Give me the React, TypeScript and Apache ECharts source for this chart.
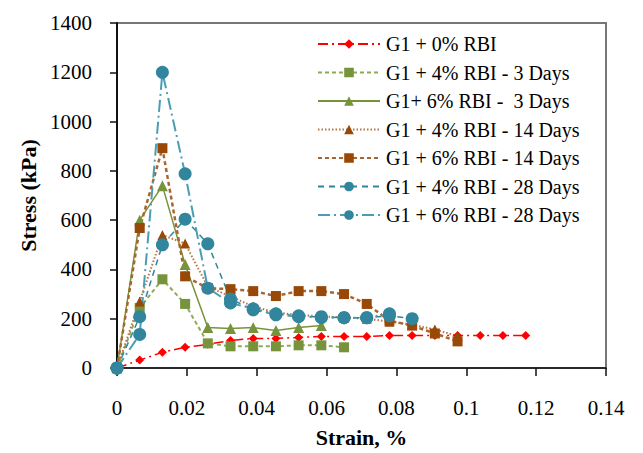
import React, { useEffect, useRef } from "react";
import * as echarts from "echarts";

// Strain (%) sample positions shared by all tests
const strain = [0, 0.0065, 0.013, 0.0195, 0.026, 0.0325, 0.039, 0.0455, 0.052, 0.0585, 0.065, 0.0715, 0.078, 0.0845, 0.091, 0.0975, 0.104, 0.1105, 0.117];

// Stress (kPa) per series
const g1_0 = [0, 32, 64, 84, 96, 112, 120, 120, 124, 128, 128, 128, 132, 132, 132, 132, 132, 132, 132];
const g1_4_3d = [0, 244, 360, 260, 100, 88, 88, 88, 92, 92, 84];
const g1_6_3d = [0, 600, 740, 420, 164, 160, 164, 152, 164, 172];
const g1_4_14d = [0, 270, 540, 505, 330, 290, 250, 225, 215, 210, 205, 200, 188, 176, 156, 130];
const g1_6_14d = [0, 568, 892, 372, 324, 320, 312, 292, 312, 312, 300, 260, 192, 172, 140, 108];
const g1_4_28d = [0, 208, 500, 604, 504, 280, 236, 216, 208, 208, 204, 204, 212, 200];
const g1_6_28d = [0, 136, 1200, 788, 324, 264, 240, 220, 212, 204, 204, 204, 220];

const seriesNames = [
  "G1 + 0% RBI",
  "G1 + 4% RBI - 3 Days",
  "G1+ 6% RBI -  3 Days",
  "G1 + 4% RBI - 14 Days",
  "G1 + 6% RBI - 14 Days",
  "G1 + 4% RBI - 28 Days",
  "G1 + 6% RBI - 28 Days",
];

const xTicks = { min: 0, max: 0.14, interval: 0.02 };
const yTicks = { min: 0, max: 1400, interval: 200 };

const FONT = "Times New Roman, Liberation Serif, DejaVu Serif, serif";

function pairs(ys: number[]) {
  return ys.map((v, i) => [strain[i], v]);
}

export default function App() {
  const ref = useRef<HTMLDivElement>(null);
  useEffect(() => {
    if (!ref.current) return;
    const chart = echarts.init(ref.current, undefined, { renderer: "svg" });
    const mk = (
      name: string,
      ys: number[],
      symbol: string,
      size: number,
      lineColor: string,
      markColor: string,
      type: any,
      width: number
    ) => ({
      name,
      type: "line",
      data: pairs(ys),
      symbol,
      symbolSize: size,
      showAllSymbol: true,
      lineStyle: { color: lineColor, width, type },
      itemStyle: { color: markColor, borderWidth: 0 },
      emphasis: { disabled: true },
    });
    chart.setOption({
      animation: false,
      textStyle: { fontFamily: FONT },
      grid: {
        left: 117,
        right: 37,
        top: 23,
        bottom: 80,
        show: true,
        borderColor: "#777",
        borderWidth: 2,
      },
      legend: {
        orient: "vertical",
        left: 312,
        top: 29,
        itemWidth: 62,
        itemHeight: 12,
        itemGap: 8.5,
        data: seriesNames,
        textStyle: {
          fontFamily: FONT,
          fontSize: 20,
          color: "#000",
          lineHeight: 20,
          padding: [0, 0, 0, 1],
        },
      },
      xAxis: {
        type: "value",
        ...xTicks,
        name: "Strain, %",
        nameLocation: "middle",
        nameGap: 58,
        nameTextStyle: { fontFamily: FONT, fontSize: 22, fontWeight: "bold", color: "#000" },
        axisLine: { show: true, onZero: false, lineStyle: { color: "#111", width: 1.5 } },
        axisTick: { show: true, inside: false, length: 8, lineStyle: { color: "#111", width: 1.5 } },
        axisLabel: {
          margin: 29,
          fontFamily: FONT,
          fontSize: 21,
          color: "#000",
          formatter: (v: number) => String(+v.toFixed(2)),
        },
        splitLine: { show: false },
      },
      yAxis: {
        type: "value",
        ...yTicks,
        name: "Stress (kPa)",
        nameLocation: "middle",
        nameGap: 78,
        nameTextStyle: { fontFamily: FONT, fontSize: 22, fontWeight: "bold", color: "#000" },
        axisLine: { show: true, lineStyle: { color: "#111", width: 2 } },
        axisTick: { show: true, inside: false, length: 7, lineStyle: { color: "#111", width: 1.5 } },
        axisLabel: {
          margin: 25,
          fontFamily: FONT,
          fontSize: 21,
          color: "#000",
          formatter: (v: number) => String(v),
        },
        splitLine: { show: false },
      },
      series: [
        mk(seriesNames[0], g1_0, "diamond", 9, "#FF0000", "#FF0000", [10, 4, 2, 4], 1.5),
        mk(seriesNames[1], g1_4_3d, "rect", 10, "#8FAA55", "#77933C", [4, 3], 2),
        mk(seriesNames[2], g1_6_3d, "triangle", 11, "#77933C", "#77933C", "solid", 1.5),
        mk(seriesNames[3], g1_4_14d, "triangle", 10, "#B8733F", "#984807", [1.5, 2], 2),
        mk(seriesNames[4], g1_6_14d, "rect", 10, "#A86530", "#984807", [4, 3], 2.5),
        mk(seriesNames[5], g1_4_28d, "circle", 13, "#31859C", "#31859C", [6, 5], 1.5),
        mk(seriesNames[6], g1_6_28d, "circle", 13, "#4A9DB5", "#31859C", [12, 4, 2, 4], 2),
      ],
    });
    return () => chart.dispose();
  }, []);
  return (
    <div
      ref={ref}
      style={{ position: "absolute", left: 0, top: 0, width: 643, height: 453, background: "#fff" }}
    />
  );
}
